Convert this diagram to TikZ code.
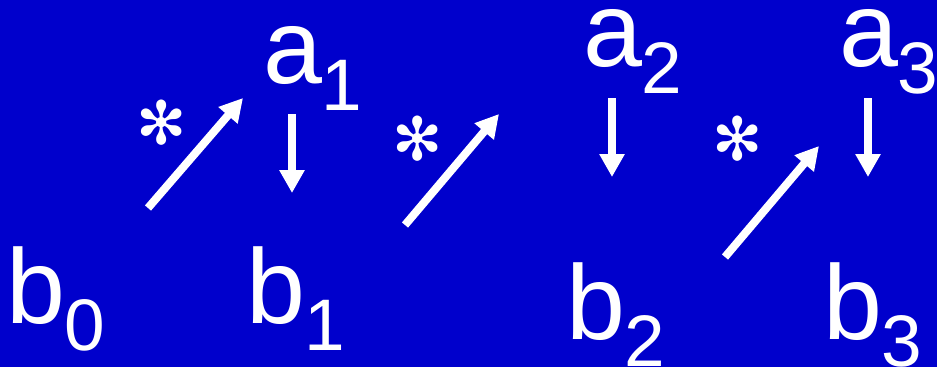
\documentclass[tikz,border=0pt]{standalone}
\usepackage{fontspec}
\setmainfont{Liberation Sans}
\newfontfamily\astfont{DejaVu Sans}
\usetikzlibrary{arrows.meta}
\definecolor{bgblue}{RGB}{0,0,204}
\newcommand{\lbl}[2]{#1\raisebox{-27pt}{\fontsize{73}{73}\selectfont #2}}
\begin{document}
\begin{tikzpicture}[x=1pt,y=-1pt,
  txt/.style={text=white,inner sep=0pt,outer sep=0pt,anchor=base west,font=\fontsize{106}{106}\selectfont},
  star/.style={text=white,inner sep=0pt,outer sep=0pt,anchor=center,font=\astfont\fontsize{60}{60}\selectfont},
  arr/.style={draw=white,line width=8pt,-{Triangle[length=23pt,width=24pt]}}]
\fill[bgblue] (0,0) rectangle (937,367);
\useasboundingbox (0,0) rectangle (937,367);
% letters
\node[txt] (b0) at (6,323) {\lbl{b}{0}};
\node[txt] (a1) at (263,83) {\lbl{a}{1}};
\node[txt] (b1) at (246,323) {\lbl{b}{1}};
\node[txt] (a2) at (583,66) {\lbl{a}{2}};
\node[txt] (b2) at (566,339) {\lbl{b}{2}};
\node[txt] (a3) at (839,66) {\lbl{a}{3}};
\node[txt] (b3) at (823,339) {\lbl{b}{3}};
% stars
\node[star] (s1) at (162,123) {✻};
\node[star] (s2) at (418,139) {✻};
\node[star] (s3) at (738,139) {✻};
% arrow ends
\coordinate (d1s) at (148,208);
\coordinate (d1e) at (243,98);
\coordinate (d2s) at (405,225);
\coordinate (d2e) at (499,114);
\coordinate (d3s) at (725,257);
\coordinate (d3e) at (819,146);
\coordinate (v1s) at (292,114);
\coordinate (v1e) at (292,193);
\coordinate (v2s) at (612,98);
\coordinate (v2e) at (612,177);
\coordinate (v3s) at (868,98);
\coordinate (v3e) at (868,177);
\draw[arr] (d1s) -- (d1e);
\draw[arr] (d2s) -- (d2e);
\draw[arr] (d3s) -- (d3e);
\draw[arr] (v1s) -- (v1e);
\draw[arr] (v2s) -- (v2e);
\draw[arr] (v3s) -- (v3e);
\end{tikzpicture}
\end{document}
